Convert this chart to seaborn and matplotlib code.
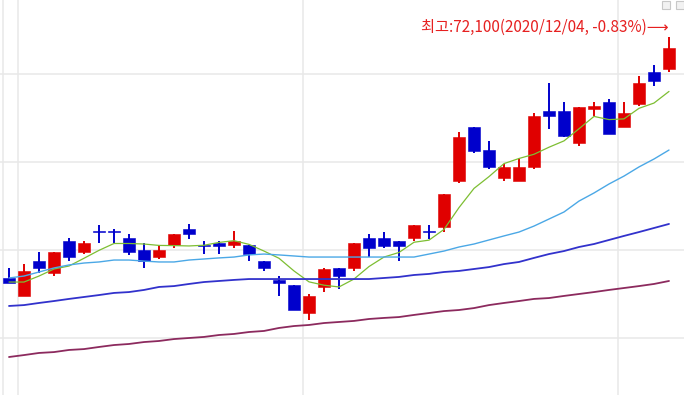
"""
일봉 캔들차트 재현 (2020/09/29 ~ 2020/12/04)

- 캔들: 양봉 빨강, 음봉 파랑
- 이동평균선 5/20/60/120
- 최고가 표시
"""
import numpy as np
import pandas as pd
import matplotlib
matplotlib.use("Agg")
import matplotlib.pyplot as plt
import seaborn as sns
from matplotlib.patches import Rectangle

sns.set_style("white")
plt.rcParams['font.family'] = ['Noto Sans CJK KR', 'DejaVu Sans']
plt.rcParams['axes.unicode_minus'] = False

# 거래일
dates = ["2020-09-29",
         "2020-10-05", "2020-10-06", "2020-10-07", "2020-10-08",
         "2020-10-12", "2020-10-13", "2020-10-14", "2020-10-15", "2020-10-16",
         "2020-10-19", "2020-10-20", "2020-10-21", "2020-10-22", "2020-10-23",
         "2020-10-26", "2020-10-27", "2020-10-28", "2020-10-29", "2020-10-30",
         "2020-11-02", "2020-11-03", "2020-11-04", "2020-11-05", "2020-11-06",
         "2020-11-09", "2020-11-10", "2020-11-11", "2020-11-12", "2020-11-13",
         "2020-11-16", "2020-11-17", "2020-11-18", "2020-11-19", "2020-11-20",
         "2020-11-23", "2020-11-24", "2020-11-25", "2020-11-26", "2020-11-27",
         "2020-11-30",
         "2020-12-01", "2020-12-02", "2020-12-03", "2020-12-04"]

# 시가 / 고가 / 저가 / 종가
open_px = [58400, 57400, 59400, 58700, 60500, 59900, 61100, 61100, 60700, 60000,
           59600, 60300, 61200, 60300, 60400, 60300, 60300, 59400, 58300, 58000,
           56400, 57900, 59000, 59000, 60700, 60700, 60500, 60700, 61100, 61300,
           63900, 67000, 65700, 64100, 63900, 64700, 67900, 67900, 66100, 68000,
           68400, 67000, 68300, 70100, 70300]
high_px = [59000, 59200, 59900, 59900, 60700, 60500, 61400, 61200, 60900, 60400,
           60200, 60900, 61500, 60500, 60500, 61100, 60300, 59400, 58500, 58000,
           57500, 59000, 59000, 60400, 60900, 61000, 60500, 61400, 61400, 63200,
           66700, 67000, 66200, 64900, 65200, 67800, 69500, 68400, 68100, 68400,
           68600, 68400, 69900, 70500, 72100]
low_px = [58100, 57400, 58700, 58500, 59400, 59800, 60400, 60400, 59700, 59000,
          59500, 60100, 60600, 59800, 59800, 60100, 59400, 58800, 57400, 56600,
          56000, 57600, 57800, 58800, 59600, 60100, 59400, 60500, 60600, 61000,
          63800, 65500, 64600, 63900, 63900, 64600, 66900, 66400, 65900, 67600,
          66600, 67000, 68200, 69300, 70100]
close_px = [58100, 58800, 59000, 59900, 59600, 60400, 61000, 61000, 59900, 59400,
            60000, 60900, 60900, 60200, 60200, 60500, 59800, 59000, 58100, 56600,
            57400, 58900, 58500, 60400, 60100, 60200, 60200, 61400, 61000, 63200,
            66400, 65600, 64700, 64700, 64700, 67600, 67600, 66500, 68100, 68200,
            66600, 67800, 69500, 69600, 71500]

# 이동평균선
ma5 = [58180, 58180, 58520, 58920, 59090, 59530, 59980, 60370, 60370, 60340,
       60260, 60250, 60230, 60270, 60430, 60530, 60320, 59940, 59530, 58810,
       58190, 58000, 57900, 58350, 59060, 59600, 59860, 60440, 60560, 61170,
       62410, 63500, 64170, 64910, 65200, 65440, 65840, 66200, 66890, 67590,
       67410, 67450, 68050, 68350, 69010]
ma20 = [58410, 58520, 58750, 58980, 59150, 59260, 59320, 59430, 59430, 59370,
        59320, 59320, 59430, 59490, 59550, 59600, 59720, 59770, 59720, 59660,
        59600, 59600, 59600, 59600, 59600, 59600, 59600, 59600, 59770, 59940,
        60170, 60340, 60570, 60800, 61020, 61360, 61760, 62160, 62780, 63240,
        63750, 64200, 64720, 65170, 65680]
ma60 = [56820, 56870, 56990, 57100, 57220, 57330, 57440, 57560, 57610, 57730,
        57900, 57950, 58070, 58180, 58240, 58300, 58350, 58350, 58350, 58350,
        58350, 58350, 58350, 58350, 58350, 58410, 58470, 58580, 58640, 58750,
        58810, 58920, 59030, 59200, 59320, 59550, 59770, 59940, 60170, 60340,
        60570, 60800, 61020, 61250, 61480]
ma120 = [53920, 54030, 54150, 54200, 54320, 54370, 54490, 54600, 54660, 54770,
         54830, 54940, 55000, 55060, 55170, 55230, 55340, 55400, 55570, 55680,
         55740, 55850, 55910, 55970, 56080, 56140, 56190, 56310, 56420, 56530,
         56590, 56700, 56870, 56990, 57100, 57220, 57270, 57390, 57500, 57610,
         57730, 57840, 57950, 58070, 58240]

grid_prices = [55000, 60000, 65000, 70000]

COLOR_UP = '#E00000'
COLOR_DOWN = '#0000CC'
MA_STYLES = [("MA5", ma5, '#7DBE32', 0.9),
             ("MA20", ma20, '#4BA8E6', 1.0),
             ("MA60", ma60, '#3232CC', 1.3),
             ("MA120", ma120, '#8C2A5E', 1.3)]


def main():
    df = pd.DataFrame({
        'date': pd.to_datetime(dates),
        'open': open_px, 'high': high_px, 'low': low_px, 'close': close_px,
    })
    df['idx'] = np.arange(len(df))
    for name, vals, _, _ in MA_STYLES:
        df[name] = vals

    fig = plt.figure(figsize=(6.84, 3.95), dpi=100)
    ax = fig.add_axes([0, 0, 1, 1])

    # 격자: 가격 가로선, 월 경계 세로선
    for p in grid_prices:
        ax.axhline(p, color='#E8E8E8', lw=1.1, zorder=0)
    month_start = df.index[df['date'].dt.month != df['date'].dt.month.shift()]
    for i in month_start:
        ax.axvline(i - 0.4, color='#E8E8E8', lw=1.1, zorder=0)

    # 캔들
    up = df['close'] >= df['open']
    colors = np.where(up, COLOR_UP, COLOR_DOWN)
    ax.vlines(df['idx'], df['low'], df['high'], colors=colors, lw=1.4, zorder=2)
    body_bottom = np.minimum(df['open'], df['close'])
    body_h = (df['close'] - df['open']).abs()
    ax.bar(df['idx'], body_h, bottom=body_bottom, width=0.86,
           color=colors, edgecolor=colors, lw=0.4, zorder=3)

    # 이동평균선
    for name, _, color, lw in MA_STYLES:
        sns.lineplot(data=df, x='idx', y=name, color=color, lw=lw,
                     ax=ax, zorder=4, legend=False)

    # 최고가 표시
    i_max = int(df['high'].idxmax())
    h_max = df.loc[i_max, 'high']
    pct = (df['close'].iloc[-1] - h_max) / h_max * 100
    label = f"최고:{h_max:,}({df.loc[i_max, 'date']:%Y/%m/%d}, {pct:.2f}%)⟶"
    ax.annotate(label, xy=(i_max, h_max), xytext=(0, 7), textcoords='offset points',
                ha='right', va='center', color='#E62020', fontsize=11)

    # 오른쪽 위 작은 버튼
    for x0 in (662, 676):
        fig.add_artist(Rectangle((x0 / 684, 1 - 9 / 395), 8 / 684, 8 / 395,
                                 transform=fig.transFigure, facecolor='#F2F2F2',
                                 edgecolor='#C8C8C8', lw=0.8))

    ax.set_xlim(-0.6, 45.0)
    ax.set_ylim(51761, 74205)
    ax.set_xlabel('')
    ax.set_ylabel('')
    ax.set_xticks([])
    ax.set_yticks([])
    for s in ax.spines.values():
        s.set_visible(False)

    fig.savefig('out.png', dpi=100)
    plt.close(fig)


if __name__ == "__main__":
    main()
